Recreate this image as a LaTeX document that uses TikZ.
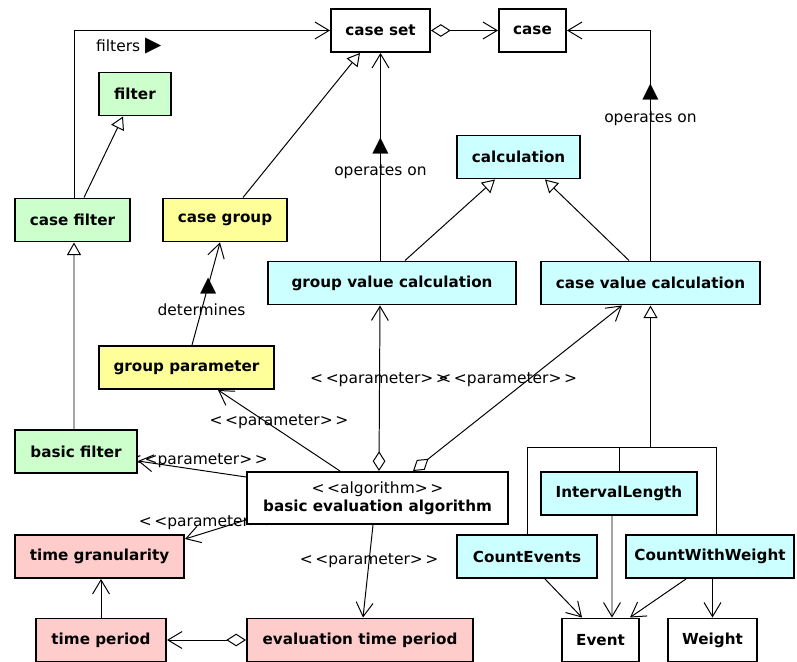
\documentclass[tikz,border=0pt]{standalone}
\usepackage{fontspec}
\setmainfont{DejaVu Sans}
\usetikzlibrary{arrows.meta,calc}
\pgfdeclarelayer{background}
\pgfsetlayers{background,main}
\definecolor{filterfill}{RGB}{204,255,204}
\definecolor{groupfill}{RGB}{255,255,153}
\definecolor{calcfill}{RGB}{204,255,255}
\definecolor{timefill}{RGB}{255,204,204}
\newcommand{\paramlbl}{<\,<parameter>\,>}

\begin{document}
\begin{tikzpicture}[x=0.025cm,y=-0.025cm,
    class/.style={draw,line width=1.4pt,inner sep=2pt,minimum height=1.075cm,
      font=\bfseries\fontsize{10.8}{13}\selectfont},
    filterbox/.style={class,fill=filterfill},
    groupbox/.style={class,fill=groupfill},
    calcbox/.style={class,fill=calcfill},
    timebox/.style={class,fill=timefill},
    link/.style={line width=0.7pt},
    assoc/.style={link,-{Straight Barb[length=10pt,width=12pt]}},
    inherit/.style={link,-{Triangle[fill=white,length=9pt,width=10pt]}},
    aggr/.style={link,{Diamond[fill=white,length=14pt,width=9pt]}-{Straight Barb[length=10pt,width=12pt]}},
    lbl/.style={inner sep=1pt,font=\fontsize{11}{13}\selectfont},
    dir/.style={inner sep=0pt,font=\fontsize{15}{15}\selectfont}]
    \useasboundingbox (0,0) rectangle (797,662);

    % classes
    \node[class,minimum width=2.475cm] (caseset) at (380.5,30.5) {case set};
    \node[class,minimum width=1.675cm] (case) at (532.5,30.5) {case};
    \node[filterbox,minimum width=1.8cm] (filter) at (135,94) {filter};
    \node[filterbox,minimum width=2.875cm] (casefilter) at (72.5,220) {case filter};
    \node[groupbox,minimum width=3.1cm] (casegroup) at (225,220) {case group};
    \node[calcbox,minimum width=3.075cm] (calculation) at (518.5,157) {calculation};
    \node[calcbox,minimum width=6.2cm] (groupvalue) at (392,283) {group value calculation};
    \node[calcbox,minimum width=5.475cm] (casevalue) at (650.5,283) {case value calculation};
    \node[groupbox,minimum width=4.375cm] (groupparam) at (186.5,367.5) {group parameter};
    \node[filterbox,minimum width=3.05cm] (basicfilter) at (76,451.5) {basic filter};
    \node[class,fill=white,minimum width=6.525cm,minimum height=1.3cm,align=center] (algorithm) at (377.5,498)
      {{\mdseries\fontsize{11}{13}\selectfont <\,<algorithm>\,>}\\basic evaluation algorithm};
    \node[timebox,minimum width=4.225cm] (timegran) at (99.5,556.5) {time granularity};
    \node[timebox,minimum width=3.25cm] (timeperiod) at (101,640) {time period};
    \node[timebox,minimum width=5.65cm] (evaltime) at (360,640) {evaluation time period};
    \node[calcbox,minimum width=3.9cm] (interval) at (619,493.5) {IntervalLength};
    \node[calcbox,minimum width=3.5cm] (countevents) at (527,556.5) {CountEvents};
    \node[calcbox,minimum width=4.2cm] (countweight) at (710,556.5) {CountWithWeight};
    \node[class,minimum width=1.925cm] (event) at (600.5,640) {Event};
    \node[class,minimum width=2.225cm] (weight) at (712.5,640) {Weight};

    \begin{pgfonlayer}{background}
    % associations
    \draw[assoc] ($(casefilter.north)+(1.5,0)$) |- (caseset.west)
      node[lbl,pos=0.607,yshift=-0.39cm] {filters {\fontsize{15}{15}\selectfont ▶}};
    \draw[aggr] (caseset.east) -- (case.west);
    \draw[assoc] (caseset.south |- groupvalue.north) -- (caseset.south)
      node[dir,pos=0.552] {▲}
      node[lbl,pos=0.429] {operates on};
    \draw[assoc] (casevalue.north) |- (case.east)
      node[dir,pos=0.367] {▲}
      node[lbl,pos=0.309] {operates on};
    \draw[assoc] ($(groupparam.north)+(5.5,0)$) -- ($(casegroup.south)+(-5,0)$)
      node[dir,pos=0.58] {▲}
      node[lbl,pos=0.34] {determines};

    % generalizations
    \draw[inherit] ($(casefilter.north)+(11.5,0)$) -- ($(filter.south)+(-12,0)$);
    \draw[inherit] ($(basicfilter.north)+(-2,0)$) -- ($(casefilter.south)+(1.5,0)$);
    \draw[inherit] ($(casegroup.north)+(18,0)$) -- ($(caseset.south)+(-20.5,0)$);
    \draw[inherit] ($(groupvalue.north)+(13,0)$) -- ($(calculation.south)+(-23.5,0)$);
    \draw[inherit] ($(casevalue.north)+(-21.5,0)$) -- ($(calculation.south)+(26.5,0)$);
    \coordinate (fork) at ($(casevalue.south)+(0,142)$);
    \draw[inherit] (fork) -- (casevalue.south);
    \draw[link] (countevents.north) |- (fork);
    \draw[link] (interval.north) -- (interval.north |- fork);
    \draw[link] ($(countweight.north)+(6,0)$) |- (fork);

    % parameters of the algorithm
    \draw[aggr] ($(algorithm.north)+(1.5,0)$) -- ($(groupvalue.south)+(-12,0)$)
      node[lbl,pos=0.554] {\paramlbl};
    \draw[aggr] ($(algorithm.north)+(35.5,0)$) -- ($(casevalue.south)+(-28.5,0)$)
      node[lbl,pos=0.554,xshift=-0.525cm] {\paramlbl};
    \draw[assoc] ($(algorithm.north)+(-37.5,0)$) -- ($(groupparam.south)+(31.5,0)$)
      node[lbl,pos=0.5,yshift=0.21cm] {\paramlbl};
    \draw[assoc] ($(algorithm.west)+(0,-21)$) -- ($(basicfilter.east)+(0,9.5)$)
      node[lbl,pos=0.44,yshift=0.24cm] {\paramlbl};
    \draw[assoc] ($(algorithm.west)+(0,22)$) -- ($(timegran.east)+(0,-17.5)$)
      node[lbl,pos=0.62,yshift=0.22cm] {\paramlbl};
    \draw[assoc] ($(algorithm.south)+(-4.5,0)$) -- ($(evaltime.north)+(3,0)$)
      node[lbl,pos=0.39] {\paramlbl};

    % time classes
    \draw[aggr] (evaltime.west) -- (timeperiod.east);
    \draw[assoc] (timeperiod.north) -- (timeperiod.north |- timegran.south);

    % uses
    \draw[assoc] ($(countevents.south)+(18,0)$) -- ($(event.north)+(-18.5,0)$);
    \draw[assoc] ($(interval.south)+(-7,0)$) -- ($(event.north)+(11.5,0)$);
    \draw[assoc] ($(countweight.south)+(-24,0)$) -- ($(event.north)+(29.5,0)$);
    \draw[assoc] (weight.north |- countweight.south) -- (weight.north);
    \end{pgfonlayer}
\end{tikzpicture}
\end{document}
